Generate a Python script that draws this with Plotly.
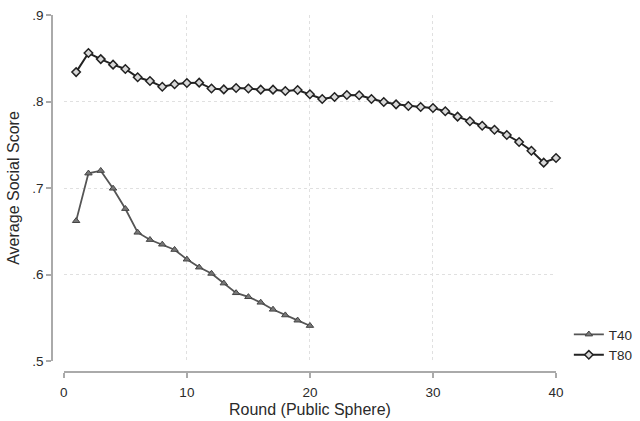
import plotly.graph_objects as go

rounds_t40 = list(range(1, 21))
t40 = [0.662, 0.717, 0.720, 0.6995, 0.676, 0.6486, 0.6402, 0.6348, 0.6287, 0.6175,
       0.6083, 0.6011, 0.5899, 0.5787, 0.5741, 0.5677, 0.5596, 0.553, 0.547, 0.5408]

rounds_t80 = list(range(1, 41))
t80 = [0.834, 0.856, 0.849, 0.8426, 0.8376, 0.828, 0.8237, 0.817, 0.820, 0.8214,
       0.8218, 0.815, 0.814, 0.8156, 0.815, 0.8137, 0.8137, 0.8121, 0.8133, 0.8083,
       0.8029, 0.8052, 0.8075, 0.8072, 0.8029, 0.7994, 0.7967, 0.7948, 0.7936, 0.7925,
       0.7887, 0.7825, 0.7771, 0.772, 0.7674, 0.7613, 0.7532, 0.7431, 0.7293, 0.7347]

x_ticks = [0, 10, 20, 30, 40]
y_ticks = [0.5, 0.6, 0.7, 0.8, 0.9]
y_ticktext = [".5", ".6", ".7", ".8", ".9"]

FONT = "Liberation Sans, Arial, sans-serif"
TXT = "#2a2a2a"

fig = go.Figure()
fig.add_trace(go.Scatter(
    x=rounds_t40, y=t40, name="T40", mode="lines+markers",
    line=dict(color="#555555", width=1.8),
    marker=dict(symbol="triangle-up", size=6.5, color="#777777",
                line=dict(color="#444444", width=1)),
    cliponaxis=False,
))
fig.add_trace(go.Scatter(
    x=rounds_t80, y=t80, name="T80", mode="lines+markers",
    line=dict(color="#222222", width=2),
    marker=dict(symbol="diamond", size=6.5, color="#d8d8d8",
                line=dict(color="#222222", width=1.5)),
    cliponaxis=False,
))

W, H = 640, 421
ml, mr, mt, mb = 52, 2, 15, 49
pw = W - ml - mr
ph = H - mt - mb

fig.update_layout(
    width=W, height=H,
    margin=dict(l=ml, r=mr, t=mt, b=mb, pad=0),
    paper_bgcolor="white", plot_bgcolor="white",
    font=dict(family=FONT, size=13.5, color=TXT),
    xaxis=dict(
        domain=[(64 - ml) / pw, (563 - ml) / pw], range=[0, 40], anchor="free", position=0,
        automargin=False,
        tickvals=x_ticks, showline=True, linecolor="#aaaaaa", linewidth=1.5,
        ticks="outside", ticklen=5, tickcolor="#aaaaaa", tickwidth=1.5,
        ticklabelstandoff=3,
        showgrid=True, gridcolor="#e0e0e0", griddash="dot", gridwidth=1,
        zeroline=False,
        tickfont=dict(size=13.5, color=TXT),
        title=dict(text="Round (Public Sphere)", font=dict(size=16, color=TXT), standoff=4),
    ),
    yaxis=dict(
        domain=[(372 - 361) / ph, 1], range=[0.5, 0.9], anchor="free", position=0,
        automargin=False,
        tickvals=y_ticks, ticktext=y_ticktext, showline=True, linecolor="#aaaaaa",
        linewidth=1.5, ticks="outside", ticklen=5, tickcolor="#aaaaaa", tickwidth=1.5,
        showgrid=True, gridcolor="#e0e0e0", griddash="dot", gridwidth=1,
        zeroline=False,
        tickfont=dict(size=13.5, color=TXT),
        title=dict(text="Average Social Score", font=dict(size=16, color=TXT), standoff=8),
    ),
    showlegend=True,
    legend=dict(
        x=(576 - ml) / pw, xanchor="left", y=(372 - 319) / ph, yanchor="top",
        font=dict(size=13.5, color=TXT), bgcolor="rgba(0,0,0,0)",
        itemwidth=30, tracegroupgap=0, borderwidth=0,
    ),
)

fig.write_html("out.html", config={"displayModeBar": False},
               post_script="document.body.style.margin='0';document.body.style.overflow='hidden';")
